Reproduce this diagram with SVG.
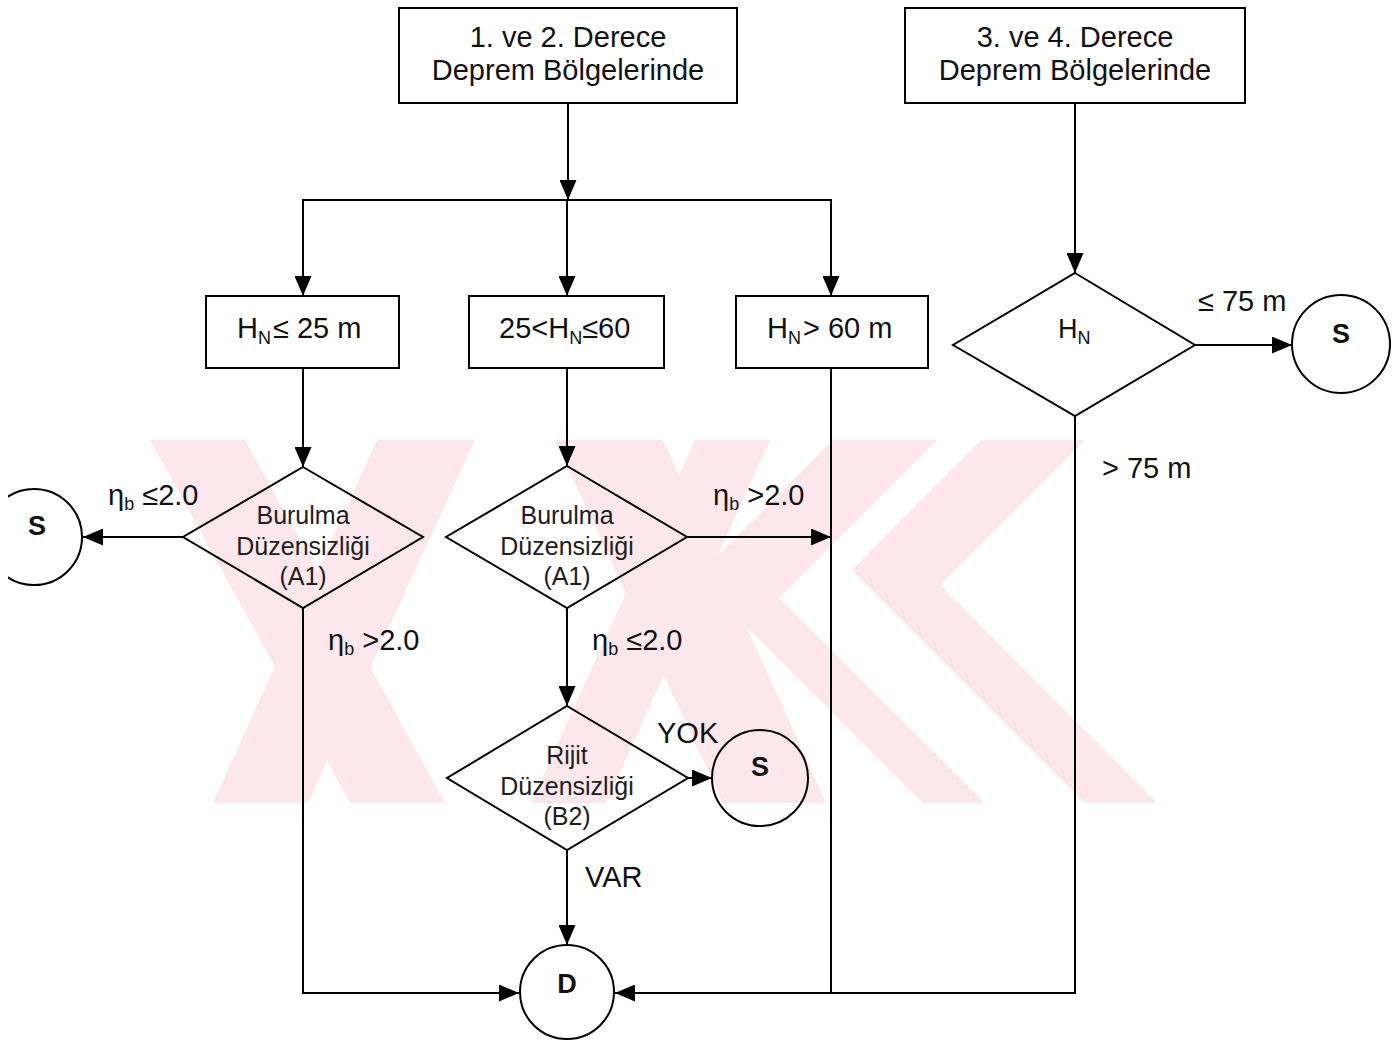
<svg xmlns="http://www.w3.org/2000/svg" width="1398" height="1043" viewBox="0 0 1398 1043">
  <defs>
    <style>
      .shape { fill: none; stroke: #000; stroke-width: 2; }
      .line { fill: none; stroke: #000; stroke-width: 2; }
      .arr { marker-end: url(#ah); }
      .t { font-family: "Liberation Sans", Arial, sans-serif; fill: #111; }
      .big { font-size: 29px; }
      .dt { font-size: 25px; fill: #231c1c; text-anchor: middle; }
      .ctr { text-anchor: middle; }
      .sym { font-size: 27px; font-weight: bold; text-anchor: middle; }
      .sub { font-size: 18px; }
      .wm { fill: #fce8ec; stroke: none; }
    </style>
    <marker id="ah" markerUnits="userSpaceOnUse" markerWidth="20" markerHeight="17" refX="20" refY="8.5" orient="auto">
      <path d="M0,0 L20,8.5 L0,17 Z" fill="#000"/>
    </marker>
    <clipPath id="clipL">
      <rect x="8" y="0" width="200" height="1043"/>
    </clipPath>
  </defs>

  <rect x="0" y="0" width="1398" height="1043" fill="#fff"/>

  <g id="watermark">
    <polygon class="wm" points="150,440 245,440 445,803 350,803"/>
    <polygon class="wm" points="377,440 475,440 308,803 213,803"/>
    <polygon class="wm" points="555,440 663,440 826,803 723,803"/>
    <polygon class="wm" points="695,440 770,440 606,803 531,803"/>
    <polygon class="wm" points="833,440 937,440 779,598 985,803 923,803 697,577"/>
    <polygon class="wm" points="981,440 1085,440 940,585 1157,803 1085,803 852,570"/>
  </g>

  <g id="connectors">
    <line class="line arr" x1="568" y1="103" x2="568" y2="200"/>
    <line class="line" x1="302" y1="200" x2="832" y2="200"/>
    <line class="line arr" x1="303" y1="200" x2="303" y2="296"/>
    <line class="line arr" x1="567" y1="200" x2="567" y2="296"/>
    <line class="line arr" x1="831" y1="200" x2="831" y2="296"/>
    <line class="line arr" x1="303" y1="368" x2="303" y2="467"/>
    <line class="line arr" x1="567" y1="368" x2="567" y2="466"/>
    <line class="line arr" x1="183" y1="537" x2="83" y2="537"/>
    <line class="line arr" x1="687" y1="537" x2="831" y2="537"/>
    <line class="line arr" x1="567" y1="608" x2="567" y2="706"/>
    <line class="line arr" x1="688" y1="778" x2="712" y2="778"/>
    <line class="line arr" x1="567" y1="850" x2="567" y2="945"/>
    <polyline class="line arr" points="303,608 303,993 519,993"/>
    <line class="line" x1="831" y1="368" x2="831" y2="993"/>
    <polyline class="line arr" points="1075,416 1075,993 615,993"/>
    <line class="line arr" x1="1075" y1="103" x2="1075" y2="273"/>
    <line class="line arr" x1="1195" y1="345" x2="1292" y2="345"/>
  </g>

  <g id="box-12">
    <rect class="shape" x="399" y="8" width="338" height="95"/>
    <text class="t big ctr" x="568" y="47">1. ve 2. Derece</text>
    <text class="t big ctr" x="568" y="80">Deprem Bölgelerinde</text>
  </g>
  <g id="box-34">
    <rect class="shape" x="905" y="8" width="340" height="95"/>
    <text class="t big ctr" x="1075" y="47">3. ve 4. Derece</text>
    <text class="t big ctr" x="1075" y="80">Deprem Bölgelerinde</text>
  </g>

  <g id="box-h25">
    <rect class="shape" x="206" y="296" width="193" height="72"/>
    <text class="t big" x="237" y="338">H<tspan class="sub" dy="6">N</tspan><tspan dy="-6" dx="2">≤ 25 m</tspan></text>
  </g>
  <g id="box-h2560">
    <rect class="shape" x="469" y="296" width="195" height="72"/>
    <text class="t big" x="499" y="338">25&lt;H<tspan class="sub" dy="6">N</tspan><tspan dy="-6">≤60</tspan></text>
  </g>
  <g id="box-h60">
    <rect class="shape" x="736" y="296" width="192" height="72"/>
    <text class="t big" x="767" y="338">H<tspan class="sub" dy="6">N</tspan><tspan dy="-6" dx="2">&gt; 60 m</tspan></text>
  </g>

  <g id="dec-a1-left">
    <polygon class="shape" points="303,467 423,537 303,608 183,537"/>
    <text class="t dt" x="303" y="524">Burulma</text>
    <text class="t dt" x="303" y="555">Düzensizliği</text>
    <text class="t dt" x="303" y="585">(A1)</text>
  </g>
  <g id="dec-a1-mid">
    <polygon class="shape" points="567,466 687,537 567,608 446,537"/>
    <text class="t dt" x="567" y="524">Burulma</text>
    <text class="t dt" x="567" y="555">Düzensizliği</text>
    <text class="t dt" x="567" y="585">(A1)</text>
  </g>
  <g id="dec-b2">
    <polygon class="shape" points="567,706 688,778 567,850 447,778"/>
    <text class="t dt" x="567" y="764">Rijit</text>
    <text class="t dt" x="567" y="795">Düzensizliği</text>
    <text class="t dt" x="567" y="825">(B2)</text>
  </g>
  <g id="dec-hn">
    <polygon class="shape" points="1075,273 1195,345 1075,416 953,345"/>
    <text class="t" x="1058" y="338" font-size="27">H<tspan class="sub" dy="6">N</tspan></text>
  </g>

  <g id="s-left">
    <circle class="shape" cx="34" cy="537" r="48" clip-path="url(#clipL)"/>
    <text class="t sym" x="37" y="535">S</text>
  </g>
  <g id="s-mid">
    <circle class="shape" cx="760" cy="778" r="48"/>
    <text class="t sym" x="760" y="776">S</text>
  </g>
  <g id="s-right">
    <circle class="shape" cx="1341" cy="344" r="49"/>
    <text class="t sym" x="1341" y="343">S</text>
  </g>
  <g id="d-end">
    <circle class="shape" cx="567" cy="992" r="47"/>
    <text class="t sym" x="567" y="993">D</text>
  </g>

  <g id="labels">
    <text class="t big" x="108" y="505">η<tspan class="sub" dy="5">b</tspan><tspan dy="-5"> ≤2.0</tspan></text>
    <text class="t big" x="328" y="650">η<tspan class="sub" dy="5">b</tspan><tspan dy="-5"> &gt;2.0</tspan></text>
    <text class="t big" x="713" y="505">η<tspan class="sub" dy="5">b</tspan><tspan dy="-5"> &gt;2.0</tspan></text>
    <text class="t big" x="592" y="650">η<tspan class="sub" dy="5">b</tspan><tspan dy="-5"> ≤2.0</tspan></text>
    <text class="t big" x="657" y="743">YOK</text>
    <text class="t big" x="585" y="887">VAR</text>
    <text class="t big" x="1198" y="311">≤ 75 m</text>
    <text class="t big" x="1102" y="478">&gt; 75 m</text>
  </g>
</svg>
